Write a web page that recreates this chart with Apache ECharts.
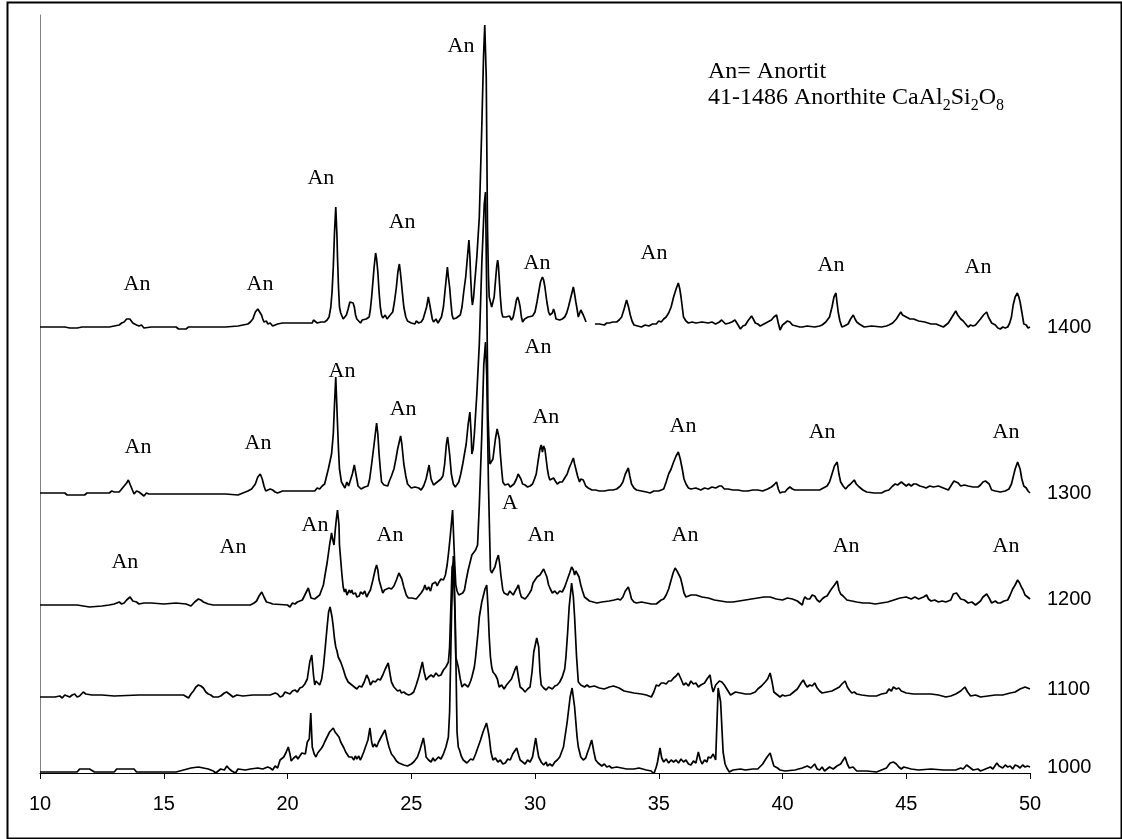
<!DOCTYPE html>
<html><head><meta charset="utf-8">
<script src="https://cdn.jsdelivr.net/npm/echarts@6/dist/echarts.min.js"></script>
<style>html,body{margin:0;padding:0;background:#fff}#c{width:1122px;height:839px}</style>
</head><body><div id="c"></div>
<script>
// ---- data ----
const xTicks = [10, 15, 20, 25, 30, 35, 40, 45, 50];
const seriesNames = ['1000', '1100', '1200', '1300', '1400'];
const offsets = [1, 76, 168, 279, 446]; // vertical stacking offsets (a.u.)

// [2theta, intensity above own baseline]
const s1000 = [[10.0,0],[10.5,0],[11.0,0],[11.5,0],[11.6,3],[12.0,3],[12.2,0],[13.0,0],[13.1,3],[13.8,3],[13.9,0],[15.5,0],[15.8,2],[16.1,4],[16.4,5],[16.8,3],[17.0,1],[17.1,-1],[17.3,3],[17.45,2],[17.55,6],[17.65,3],[17.75,1],[17.9,-1],[18.0,3],[18.3,2],[18.5,3],[18.8,4],[19.0,3],[19.2,5],[19.3,4],[19.4,2],[19.5,6],[19.6,4],[19.7,12],[19.85,15],[19.95,20],[20.03,25],[20.1,18],[20.15,11],[20.25,14],[20.35,16],[20.42,13],[20.5,16],[20.58,19],[20.65,20],[20.72,18],[20.8,30],[20.88,33],[20.94,59],[21.0,25],[21.08,18],[21.15,15],[21.22,19],[21.3,20],[21.38,24],[21.45,27],[21.5,30],[21.6,35],[21.7,40],[21.78,42],[21.85,44],[21.92,40],[22.0,38],[22.08,35],[22.15,30],[22.2,28],[22.28,24],[22.35,20],[22.4,18],[22.48,15],[22.55,17],[22.6,15],[22.68,12],[22.74,16],[22.8,13],[22.88,16],[22.94,12],[23.0,15],[23.08,20],[23.15,25],[23.25,32],[23.33,44],[23.4,30],[23.45,25],[23.52,28],[23.6,25],[23.68,30],[23.75,32],[23.85,38],[23.94,42],[24.02,33],[24.1,25],[24.2,18],[24.3,15],[24.4,11],[24.5,9],[24.6,8],[24.7,7],[24.85,6],[25.0,8],[25.1,10],[25.25,15],[25.35,22],[25.49,34],[25.55,25],[25.6,15],[25.7,12],[25.8,10],[25.88,14],[25.95,11],[26.0,12],[26.1,15],[26.2,13],[26.3,18],[26.4,25],[26.5,35],[26.55,60],[26.63,160],[26.7,216],[26.78,150],[26.85,40],[26.9,25],[26.95,22],[27.02,16],[27.1,12],[27.18,14],[27.25,9],[27.3,10],[27.4,13],[27.5,12],[27.6,18],[27.7,25],[27.8,32],[27.9,40],[28.04,49],[28.1,42],[28.15,35],[28.22,20],[28.3,12],[28.4,14],[28.5,10],[28.6,12],[28.7,8],[28.8,9],[28.9,13],[29.0,12],[29.1,18],[29.26,24],[29.35,16],[29.4,12],[29.5,10],[29.6,8],[29.7,12],[29.8,10],[29.9,15],[30.03,34],[30.1,22],[30.15,15],[30.25,10],[30.35,7],[30.45,10],[30.5,6],[30.6,8],[30.7,6],[30.8,10],[30.9,12],[31.0,15],[31.15,25],[31.3,50],[31.42,75],[31.5,84],[31.6,65],[31.7,35],[31.75,25],[31.85,15],[31.95,12],[32.05,14],[32.1,18],[32.2,25],[32.29,32],[32.38,20],[32.45,12],[32.55,9],[32.6,11],[32.7,6],[32.8,8],[32.9,5],[33.0,6],[33.1,4],[33.3,5],[33.5,4],[33.7,3],[34.0,3],[34.2,4],[34.5,2],[34.7,1],[34.8,-2],[34.9,5],[34.95,10],[35.05,24],[35.12,14],[35.2,10],[35.3,13],[35.4,9],[35.5,12],[35.6,10],[35.7,12],[35.8,9],[35.9,13],[36.0,10],[36.1,12],[36.2,8],[36.3,7],[36.4,11],[36.5,9],[36.6,20],[36.68,12],[36.75,8],[36.85,12],[36.95,10],[37.0,15],[37.1,14],[37.2,18],[37.3,12],[37.4,84],[37.5,70],[37.6,20],[37.68,8],[37.75,4],[37.85,0],[38.0,2],[38.3,3],[38.5,2],[38.8,3],[39.0,3],[39.2,8],[39.35,14],[39.5,19],[39.58,12],[39.65,6],[39.8,4],[39.9,2],[40.1,1],[40.5,2],[40.8,4],[41.0,6],[41.15,4],[41.3,8],[41.4,3],[41.5,2],[41.6,5],[41.7,1],[41.9,5],[42.05,3],[42.2,6],[42.35,8],[42.53,15],[42.62,8],[42.7,4],[42.85,5],[43.0,1],[43.4,1],[43.8,0],[44.0,2],[44.2,4],[44.35,9],[44.48,10],[44.6,8],[44.7,5],[44.8,3],[44.9,5],[45.2,3],[45.5,2],[46.0,3],[46.5,2],[47.0,2],[47.2,4],[47.3,3],[47.44,7],[47.6,4],[47.7,2],[47.9,3],[48.0,1],[48.2,3],[48.4,5],[48.5,3],[48.66,9],[48.75,6],[48.9,4],[49.0,7],[49.1,5],[49.2,6],[49.3,3],[49.4,7],[49.5,6],[49.6,4],[49.7,7],[49.8,5],[49.9,6],[50.0,5]];

const s1100 = [[10.0,0],[10.6,0],[10.8,1],[10.9,-1],[11.0,2],[11.1,1],[11.2,0],[11.3,2],[11.4,3],[11.5,0],[11.6,1],[11.75,5],[11.85,3],[11.9,1],[12.1,2],[12.5,2],[13.0,1],[14.0,2],[15.0,2],[15.8,2],[16.0,-1],[16.1,3],[16.2,6],[16.3,10],[16.4,12],[16.5,11],[16.6,9],[16.7,5],[16.8,3],[16.9,2],[17.0,0],[17.2,0],[17.3,1],[17.45,4],[17.54,5],[17.65,3],[17.8,0],[17.95,2],[18.2,1],[18.6,2],[19.0,2],[19.3,2],[19.5,4],[19.6,3],[19.7,0],[19.8,1],[19.9,5],[20.0,4],[20.1,3],[20.2,6],[20.3,7],[20.4,5],[20.5,9],[20.6,10],[20.7,13],[20.8,18],[20.9,35],[20.98,42],[21.05,22],[21.1,12],[21.15,16],[21.2,15],[21.3,12],[21.38,18],[21.45,30],[21.52,48],[21.6,70],[21.66,85],[21.72,90],[21.8,80],[21.85,70],[21.9,58],[21.95,50],[22.0,46],[22.05,40],[22.15,35],[22.25,28],[22.35,20],[22.45,15],[22.55,13],[22.6,12],[22.7,10],[22.8,8],[22.9,11],[23.0,10],[23.1,15],[23.2,22],[23.28,18],[23.35,12],[23.45,16],[23.55,15],[23.65,18],[23.75,17],[23.85,22],[23.95,28],[24.07,34],[24.15,22],[24.2,15],[24.3,10],[24.35,8],[24.45,6],[24.55,7],[24.6,4],[24.7,5],[24.8,3],[24.9,2],[25.0,3],[25.1,5],[25.2,12],[25.3,20],[25.45,35],[25.52,25],[25.6,17],[25.7,20],[25.8,22],[25.9,20],[26.0,24],[26.1,21],[26.2,22],[26.3,27],[26.4,30],[26.5,35],[26.55,50],[26.65,130],[26.72,135],[26.8,40],[26.85,35],[26.9,30],[26.98,18],[27.05,10],[27.15,13],[27.2,12],[27.3,10],[27.4,16],[27.45,20],[27.55,30],[27.6,40],[27.7,65],[27.75,80],[27.85,95],[27.9,100],[27.98,108],[28.05,112],[28.1,90],[28.15,60],[28.2,40],[28.25,30],[28.3,25],[28.4,22],[28.48,18],[28.55,10],[28.65,12],[28.75,8],[28.85,12],[28.95,15],[29.05,18],[29.1,20],[29.2,28],[29.26,31],[29.33,20],[29.4,10],[29.5,8],[29.6,5],[29.7,8],[29.8,10],[29.88,25],[29.95,45],[30.07,59],[30.15,50],[30.2,25],[30.25,12],[30.35,9],[30.45,7],[30.55,10],[30.7,8],[30.8,11],[30.9,12],[31.0,15],[31.1,20],[31.2,28],[31.25,40],[31.32,65],[31.38,90],[31.48,114],[31.55,100],[31.6,80],[31.68,40],[31.75,15],[31.85,12],[32.0,10],[32.1,12],[32.2,10],[32.4,11],[32.6,9],[32.8,8],[33.0,10],[33.17,11],[33.4,9],[33.6,6],[33.8,5],[34.0,4],[34.3,3],[34.5,2],[34.6,1],[34.7,0],[34.8,5],[34.9,12],[35.0,11],[35.1,14],[35.2,14],[35.3,13],[35.4,16],[35.5,16],[35.6,19],[35.7,21],[35.79,24],[35.9,18],[36.0,12],[36.1,14],[36.2,11],[36.3,16],[36.4,13],[36.5,14],[36.6,10],[36.7,12],[36.85,14],[36.95,18],[37.07,22],[37.15,10],[37.2,5],[37.3,12],[37.45,16],[37.55,15],[37.65,12],[37.75,8],[37.9,2],[38.1,5],[38.3,4],[38.5,3],[38.7,3],[38.9,5],[39.0,8],[39.15,11],[39.3,15],[39.4,18],[39.5,24],[39.58,15],[39.65,5],[39.75,3],[39.9,0],[40.0,2],[40.1,1],[40.3,2],[40.45,5],[40.6,8],[40.75,14],[40.84,17],[40.92,13],[41.0,10],[41.1,12],[41.2,11],[41.3,14],[41.4,9],[41.5,6],[41.6,4],[41.8,5],[42.0,6],[42.15,8],[42.3,10],[42.4,13],[42.53,16],[42.62,10],[42.7,7],[42.8,4],[42.9,5],[43.0,3],[43.2,2],[43.5,1],[43.8,1],[44.0,3],[44.2,4],[44.3,8],[44.4,6],[44.48,10],[44.6,8],[44.7,9],[44.8,6],[45.0,4],[45.3,3],[45.6,3],[46.0,3],[46.3,2],[46.6,0],[46.8,1],[47.0,3],[47.2,6],[47.37,10],[47.48,5],[47.6,1],[47.8,2],[48.0,0],[48.3,1],[48.6,2],[48.9,2],[49.2,4],[49.4,5],[49.6,8],[49.8,10],[50.0,8]];

const s1200 = [[10.0,0],[11.0,0],[11.5,0],[12.0,-2],[12.5,-1],[12.8,0],[13.0,1],[13.2,3],[13.3,1],[13.4,2],[13.5,5],[13.64,8],[13.75,4],[13.8,2],[13.9,3],[14.0,1],[14.2,2],[14.5,2],[15.0,1],[15.5,2],[15.9,1],[16.1,-1],[16.25,3],[16.4,6],[16.5,5],[16.6,3],[16.8,1],[17.0,0],[17.5,0],[18.0,0],[18.5,0],[18.65,2],[18.75,4],[18.85,9],[18.96,13],[19.05,8],[19.15,3],[19.3,2],[19.4,1],[20.0,0],[20.1,-2],[20.2,2],[20.3,1],[20.4,3],[20.5,4],[20.6,5],[20.7,10],[20.84,17],[20.95,7],[21.0,5],[21.1,6],[21.2,8],[21.3,10],[21.45,20],[21.55,35],[21.6,42],[21.7,60],[21.78,72],[21.83,65],[21.88,60],[21.93,75],[21.97,85],[22.02,95],[22.08,80],[22.1,60],[22.15,45],[22.2,30],[22.25,18],[22.3,13],[22.35,16],[22.4,10],[22.45,12],[22.5,15],[22.55,12],[22.6,15],[22.65,11],[22.75,12],[22.8,8],[22.9,9],[22.95,13],[23.05,11],[23.12,14],[23.2,8],[23.28,12],[23.35,15],[23.45,25],[23.55,36],[23.6,40],[23.65,35],[23.7,25],[23.78,18],[23.85,12],[23.92,15],[24.0,13],[24.1,17],[24.2,16],[24.3,19],[24.4,25],[24.5,32],[24.55,34],[24.62,26],[24.7,18],[24.8,10],[24.88,7],[24.95,5],[25.02,7],[25.1,8],[25.2,6],[25.3,9],[25.4,12],[25.5,16],[25.55,20],[25.62,15],[25.7,18],[25.78,14],[25.85,21],[25.9,20],[25.98,23],[26.05,19],[26.1,22],[26.2,26],[26.3,25],[26.38,30],[26.45,40],[26.52,55],[26.58,70],[26.67,95],[26.75,45],[26.8,20],[26.85,14],[26.92,10],[27.0,10],[27.08,12],[27.15,15],[27.22,25],[27.3,35],[27.4,45],[27.45,50],[27.52,48],[27.6,55],[27.68,60],[27.75,100],[27.85,170],[27.93,240],[28.0,263],[28.05,230],[28.12,120],[28.2,35],[28.25,32],[28.3,30],[28.38,38],[28.45,45],[28.52,50],[28.58,40],[28.62,30],[28.7,15],[28.75,12],[28.82,14],[28.9,10],[28.98,14],[29.05,12],[29.12,10],[29.2,14],[29.27,17],[29.33,20],[29.4,12],[29.45,8],[29.52,9],[29.6,6],[29.7,9],[29.78,12],[29.85,15],[29.92,22],[30.0,25],[30.08,28],[30.15,26],[30.2,30],[30.28,32],[30.35,36],[30.4,38],[30.48,28],[30.55,20],[30.62,16],[30.7,12],[30.8,14],[30.9,11],[31.0,14],[31.1,13],[31.2,18],[31.3,25],[31.4,32],[31.48,38],[31.55,35],[31.6,30],[31.65,34],[31.72,33],[31.78,28],[31.85,20],[31.92,14],[32.0,8],[32.1,6],[32.2,4],[32.35,3],[32.5,2],[32.7,3],[33.0,4],[33.2,5],[33.35,6],[33.45,5],[33.55,8],[33.65,14],[33.77,18],[33.84,12],[33.9,6],[34.0,3],[34.1,2],[34.3,3],[34.5,2],[34.7,1],[34.9,1],[35.0,3],[35.1,5],[35.2,6],[35.3,10],[35.4,16],[35.5,25],[35.58,32],[35.66,37],[35.74,34],[35.8,33],[35.88,27],[35.95,20],[36.02,12],[36.1,8],[36.3,10],[36.5,10],[36.75,8],[37.0,7],[37.25,5],[37.5,4],[37.75,3],[38.0,3],[38.25,4],[38.5,5],[38.75,6],[39.0,7],[39.25,8],[39.5,8],[39.75,6],[40.0,5],[40.2,7],[40.4,6],[40.5,5],[40.6,4],[40.7,2],[40.8,0],[40.85,5],[40.9,8],[41.0,6],[41.1,6],[41.2,10],[41.3,9],[41.4,5],[41.5,3],[41.6,6],[41.7,8],[41.8,9],[41.95,15],[42.1,20],[42.21,24],[42.28,15],[42.35,11],[42.45,9],[42.6,5],[42.8,4],[43.0,3],[43.25,2],[43.5,2],[43.75,1],[44.0,2],[44.25,3],[44.5,5],[44.75,7],[45.0,8],[45.2,6],[45.35,8],[45.5,6],[45.7,8],[45.82,10],[45.9,6],[46.0,4],[46.15,5],[46.3,3],[46.45,4],[46.6,3],[46.8,5],[46.9,11],[47.03,12],[47.1,10],[47.2,6],[47.35,5],[47.5,2],[47.65,3],[47.8,0],[47.9,2],[48.0,4],[48.1,8],[48.25,11],[48.35,7],[48.45,2],[48.6,4],[48.7,2],[48.8,2],[48.95,4],[49.1,5],[49.2,10],[49.3,16],[49.4,20],[49.5,25],[49.58,22],[49.65,18],[49.72,15],[49.8,10],[49.9,8],[50.0,6]];

const s1300 = [[10.0,1],[10.5,1],[11.0,1],[11.1,-1],[11.8,-1],[11.9,1],[12.8,1],[12.9,3],[13.0,2],[13.2,2],[13.3,5],[13.4,8],[13.5,11],[13.57,14],[13.65,9],[13.7,6],[13.75,3],[13.8,0],[13.9,3],[14.0,2],[14.1,0],[14.2,-2],[14.3,1],[14.4,0],[15.0,0],[16.0,0],[17.0,0],[17.5,0],[18.0,-1],[18.2,1],[18.4,3],[18.55,5],[18.7,10],[18.8,17],[18.9,20],[18.98,15],[19.05,8],[19.12,3],[19.2,2],[19.3,5],[19.4,4],[19.5,2],[19.6,1],[19.8,3],[20.3,3],[20.8,3],[21.1,3],[21.2,6],[21.3,5],[21.4,8],[21.5,10],[21.58,18],[21.65,25],[21.72,33],[21.78,40],[21.85,60],[21.9,90],[21.95,117],[22.02,70],[22.06,45],[22.1,25],[22.18,12],[22.25,9],[22.32,6],[22.4,12],[22.47,8],[22.55,10],[22.62,20],[22.7,29],[22.75,22],[22.8,15],[22.85,8],[22.9,9],[22.97,5],[23.05,4],[23.12,7],[23.18,5],[23.25,8],[23.32,15],[23.4,30],[23.5,50],[23.6,71],[23.65,60],[23.7,40],[23.75,25],[23.8,12],[23.85,14],[23.9,9],[23.97,11],[24.05,8],[24.1,12],[24.2,18],[24.3,25],[24.38,35],[24.45,45],[24.57,58],[24.62,50],[24.7,30],[24.78,18],[24.85,10],[24.92,8],[25.0,6],[25.08,4],[25.15,7],[25.22,5],[25.3,6],[25.4,4],[25.5,8],[25.6,15],[25.72,29],[25.76,22],[25.8,15],[25.85,12],[25.9,9],[25.97,11],[26.05,12],[26.1,10],[26.2,15],[26.28,18],[26.35,30],[26.42,50],[26.47,57],[26.55,40],[26.62,20],[26.7,10],[26.78,7],[26.85,8],[26.92,12],[27.0,20],[27.08,30],[27.15,40],[27.22,50],[27.3,70],[27.37,82],[27.42,60],[27.45,40],[27.5,45],[27.55,60],[27.65,100],[27.75,150],[27.85,230],[27.95,290],[28.0,302],[28.05,200],[28.1,80],[28.15,45],[28.18,30],[28.25,28],[28.3,35],[28.4,55],[28.47,65],[28.52,67],[28.56,55],[28.6,40],[28.65,25],[28.7,12],[28.78,9],[28.85,7],[28.92,10],[29.0,7],[29.08,8],[29.15,10],[29.25,15],[29.32,20],[29.37,22],[29.43,15],[29.5,10],[29.6,9],[29.7,7],[29.8,8],[29.9,10],[29.98,15],[30.05,20],[30.12,32],[30.2,45],[30.25,49],[30.3,42],[30.35,48],[30.4,45],[30.45,35],[30.5,25],[30.55,18],[30.6,14],[30.68,12],[30.75,16],[30.82,13],[30.9,10],[31.0,12],[31.1,12],[31.2,16],[31.3,20],[31.38,26],[31.45,30],[31.55,36],[31.6,30],[31.65,25],[31.72,18],[31.8,12],[31.85,15],[31.9,17],[31.95,14],[32.05,8],[32.15,6],[32.3,4],[32.45,4],[32.6,3],[32.8,3],[33.0,4],[33.15,4],[33.3,5],[33.45,8],[33.55,12],[33.65,20],[33.77,26],[33.83,18],[33.9,10],[34.0,6],[34.1,4],[34.3,3],[34.5,2],[34.65,1],[34.8,3],[35.0,3],[35.2,5],[35.3,12],[35.4,20],[35.5,25],[35.6,32],[35.7,38],[35.79,42],[35.87,35],[35.95,25],[36.02,15],[36.1,10],[36.2,6],[36.3,5],[36.5,6],[36.7,4],[36.85,6],[37.0,5],[37.15,7],[37.3,6],[37.45,8],[37.54,8],[37.65,5],[37.8,5],[38.0,4],[38.2,4],[38.4,3],[38.6,3],[38.8,4],[39.0,4],[39.2,3],[39.4,5],[39.55,7],[39.65,9],[39.76,12],[39.83,5],[39.9,1],[40.0,2],[40.1,2],[40.2,5],[40.3,7],[40.4,5],[40.5,4],[40.6,4],[40.8,4],[41.0,4],[41.25,4],[41.5,4],[41.65,6],[41.8,8],[41.9,12],[42.0,20],[42.1,28],[42.21,32],[42.28,20],[42.35,12],[42.45,8],[42.55,5],[42.65,8],[42.75,10],[42.9,14],[42.98,10],[43.1,7],[43.25,4],[43.4,2],[43.7,1],[44.0,1],[44.15,3],[44.3,4],[44.45,8],[44.55,10],[44.65,9],[44.8,12],[44.9,10],[45.0,8],[45.1,10],[45.2,8],[45.3,10],[45.4,10],[45.55,8],[45.7,7],[45.8,6],[45.95,8],[46.1,7],[46.3,8],[46.5,6],[46.7,4],[46.85,10],[46.93,13],[47.0,15],[47.1,11],[47.2,8],[47.35,9],[47.5,8],[47.7,7],[47.9,7],[48.0,9],[48.1,12],[48.2,13],[48.27,15],[48.35,10],[48.45,4],[48.6,3],[48.8,2],[49.0,3],[49.15,5],[49.25,10],[49.3,15],[49.4,25],[49.5,32],[49.55,30],[49.6,25],[49.67,15],[49.75,8],[49.85,6],[49.92,3],[50.0,1]];

const s1400 = [[10.0,0],[10.5,0],[11.0,0],[11.2,-1],[11.5,-1],[11.7,0],[12.5,0],[12.8,0],[13.0,1],[13.2,2],[13.3,4],[13.4,5],[13.5,8],[13.56,10],[13.63,8],[13.7,6],[13.75,4],[13.8,3],[13.9,2],[14.0,1],[14.1,2],[14.2,-1],[14.5,0],[15.0,0],[15.5,0],[15.6,-2],[15.9,-2],[16.0,0],[17.0,0],[17.5,0],[18.0,1],[18.2,2],[18.4,3],[18.5,5],[18.6,8],[18.7,15],[18.8,18],[18.88,17],[18.95,12],[19.0,8],[19.05,5],[19.15,6],[19.2,3],[19.3,4],[19.4,1],[19.5,2],[19.6,3],[19.8,4],[20.5,4],[21.0,4],[21.05,7],[21.1,6],[21.2,4],[21.35,5],[21.5,5],[21.6,7],[21.68,10],[21.75,20],[21.8,35],[21.85,60],[21.9,95],[21.95,120],[22.0,90],[22.02,70],[22.06,40],[22.1,20],[22.15,14],[22.2,12],[22.25,8],[22.3,10],[22.38,12],[22.45,18],[22.52,25],[22.6,27],[22.65,24],[22.7,20],[22.75,12],[22.8,8],[22.88,6],[22.95,4],[23.02,7],[23.1,6],[23.18,8],[23.25,7],[23.3,10],[23.35,18],[23.4,30],[23.45,45],[23.5,60],[23.56,74],[23.6,68],[23.65,55],[23.7,35],[23.75,20],[23.8,12],[23.85,9],[23.9,11],[23.95,12],[24.02,8],[24.1,8],[24.15,12],[24.25,15],[24.32,25],[24.4,40],[24.46,55],[24.52,63],[24.56,55],[24.6,45],[24.65,32],[24.7,20],[24.78,10],[24.85,6],[24.92,4],[25.0,4],[25.08,6],[25.15,3],[25.2,6],[25.3,4],[25.4,5],[25.48,8],[25.55,10],[25.62,20],[25.69,30],[25.75,22],[25.8,15],[25.85,8],[25.9,5],[25.95,7],[26.0,8],[26.08,4],[26.15,6],[26.22,10],[26.3,20],[26.36,35],[26.4,45],[26.46,60],[26.5,50],[26.55,40],[26.6,25],[26.65,12],[26.7,8],[26.75,6],[26.82,9],[26.9,8],[26.98,12],[27.05,20],[27.12,35],[27.2,50],[27.27,70],[27.33,87],[27.37,70],[27.4,50],[27.44,30],[27.47,22],[27.52,30],[27.55,40],[27.65,70],[27.75,110],[27.85,200],[27.92,270],[27.97,302],[28.03,250],[28.08,100],[28.12,50],[28.15,30],[28.2,25],[28.25,20],[28.3,22],[28.35,30],[28.4,45],[28.45,60],[28.49,67],[28.52,62],[28.55,50],[28.6,30],[28.65,15],[28.7,10],[28.75,8],[28.82,10],[28.9,9],[28.97,11],[29.05,7],[29.12,10],[29.2,20],[29.25,27],[29.3,30],[29.35,26],[29.4,20],[29.45,10],[29.5,5],[29.58,8],[29.65,7],[29.72,10],[29.8,8],[29.9,11],[30.0,15],[30.08,25],[30.15,35],[30.22,45],[30.3,50],[30.35,47],[30.4,40],[30.48,25],[30.55,15],[30.6,12],[30.65,10],[30.7,14],[30.75,18],[30.8,14],[30.85,8],[30.92,9],[31.0,7],[31.1,8],[31.2,10],[31.28,14],[31.35,20],[31.45,30],[31.55,40],[31.6,33],[31.65,25],[31.7,18],[31.75,10],[31.8,12],[31.85,17],[31.9,15],[31.95,12],[32.0,9],[32.06,5],[32.2,'-'],[32.42,3],[32.6,3],[32.8,2],[32.9,4],[33.0,4],[33.15,5],[33.3,5],[33.4,7],[33.5,10],[33.6,18],[33.7,27],[33.78,20],[33.85,12],[33.92,6],[34.0,2],[34.15,1],[34.3,0],[34.45,2],[34.6,1],[34.75,3],[34.9,3],[35.0,6],[35.1,5],[35.2,8],[35.3,10],[35.4,14],[35.5,20],[35.6,30],[35.7,38],[35.79,44],[35.85,38],[35.9,30],[35.95,20],[36.0,10],[36.1,6],[36.2,4],[36.35,5],[36.5,4],[36.75,5],[37.0,4],[37.15,5],[37.3,3],[37.45,5],[37.54,7],[37.62,5],[37.7,3],[37.85,4],[37.95,5],[38.08,7],[38.18,3],[38.3,-2],[38.4,1],[38.5,2],[38.6,6],[38.75,11],[38.82,8],[38.9,4],[39.0,3],[39.1,1],[39.25,3],[39.4,5],[39.55,7],[39.65,10],[39.76,12],[39.82,5],[39.9,-3],[40.0,2],[40.1,4],[40.2,6],[40.3,5],[40.4,2],[40.55,1],[40.7,0],[40.8,0],[41.0,1],[41.3,0],[41.5,1],[41.6,2],[41.75,5],[41.9,10],[42.0,20],[42.08,30],[42.16,34],[42.2,25],[42.25,15],[42.32,6],[42.4,0],[42.5,1],[42.55,-1],[42.65,3],[42.75,8],[42.86,12],[42.93,8],[43.0,5],[43.1,3],[43.3,0],[43.6,1],[44.0,0],[44.2,1],[44.3,2],[44.45,4],[44.6,8],[44.7,12],[44.78,15],[44.85,12],[45.0,10],[45.15,8],[45.3,8],[45.5,6],[45.75,5],[46.0,3],[46.2,3],[46.4,1],[46.5,0],[46.6,2],[46.7,4],[46.8,8],[46.9,12],[47.0,16],[47.08,12],[47.2,8],[47.3,6],[47.4,3],[47.5,0],[47.6,2],[47.7,1],[47.8,2],[47.9,5],[48.0,8],[48.12,12],[48.25,15],[48.32,10],[48.45,4],[48.6,2],[48.7,-1],[48.8,-2],[48.9,0],[49.0,-1],[49.1,0],[49.18,4],[49.25,10],[49.32,22],[49.4,30],[49.49,34],[49.55,30],[49.6,25],[49.67,15],[49.75,3],[49.85,2],[49.92,-1],[50.0,0]];

// peak annotations [2theta, stacked intensity, text]
const annotations = [
  [13.92,489,'An'],[18.89,489,'An'],[21.35,595,'An'],[24.63,551,'An'],[27.01,727,'An'],[30.08,510,'An'],[34.81,520,'An'],[41.96,508,'An'],[47.90,506,'An'],
  [13.96,326,'An'],[18.81,330,'An'],[22.20,402,'An'],[24.67,364,'An'],[30.12,426,'An'],[30.44,356,'An'],[35.98,347,'An'],[41.60,341,'An'],[49.03,341,'An'],
  [13.43,211,'An'],[17.80,226,'An'],[21.11,248,'An'],[24.14,238,'An'],[28.99,270,'A'],[30.24,238,'An'],[36.06,238,'An'],[42.57,227,'An'],[49.03,227,'An']
];
const legendLine1 = 'An= Anortit';
const legendLine2 = ['41-1486 Anorthite CaAl', '2', 'Si', '2', 'O', '8'];

// ---- chart ----
const rawSeries = [s1000, s1100, s1200, s1300, s1400];
const chart = echarts.init(document.getElementById('c'), null, {renderer: 'canvas'});
const lineSeries = rawSeries.map((arr, i) => ({
  name: seriesNames[i],
  type: 'line',
  data: arr.map(p => [p[0], p[1] === '-' ? '-' : p[1] + offsets[i]]),
  showSymbol: false,
  symbol: 'none',
  connectNulls: false,
  lineStyle: {color: '#000', width: 1.7},
  silent: true,
  z: 3,
  endLabel: {show: true, formatter: '{a}', distance: 17, color: '#000',
             fontFamily: '"Liberation Sans", Arial, sans-serif', fontSize: 20}
}));
const serif = '"Liberation Serif", "Times New Roman", serif';
const sub = legendLine2.map((t, k) => (k % 2 ? '{s|' : '{a|') + t + '}').join('');
chart.setOption({
  animation: false,
  backgroundColor: '#fff',
  grid: {left: 40, right: 92, top: 15, bottom: 66, containLabel: false},
  xAxis: {
    type: 'value', min: xTicks[0], max: xTicks[xTicks.length - 1], interval: 5,
    axisLine: {show: true, onZero: false, lineStyle: {color: '#000', width: 1}},
    axisTick: {show: true, inside: false, length: 6, lineStyle: {color: '#000'}},
    axisLabel: {color: '#000', fontSize: 20, margin: 21,
                fontFamily: '"Liberation Sans", Arial, sans-serif'},
    splitLine: {show: false}
  },
  yAxis: {
    type: 'value', min: 0, max: 758,
    axisLine: {show: true, lineStyle: {color: '#808080', width: 1}},
    axisTick: {show: false}, axisLabel: {show: false}, splitLine: {show: false}
  },
  series: lineSeries.concat([{
    type: 'scatter', data: annotations, symbolSize: 0, silent: true, z: 5,
    itemStyle: {color: '#000', opacity: 1},
    label: {show: true, position: 'inside', formatter: p => p.data[2],
            color: '#000', opacity: 1, textBorderWidth: 0, textShadowBlur: 0,
            fontFamily: serif, fontSize: 22}
  }]),
  graphic: [
    {type: 'rect', left: 5, top: 0, shape: {width: 1114, height: 836},
     style: {fill: null, stroke: '#000', lineWidth: 2}, silent: true, z: 10},
    {type: 'text', left: 708, top: 60, silent: true,
     style: {text: legendLine1, font: '24px ' + serif, fill: '#000'}},
    {type: 'text', left: 708, top: 86, silent: true,
     style: {text: sub, fill: '#000',
       rich: {a: {fontFamily: serif, fontSize: 24, lineHeight: 26, verticalAlign: 'top', fill: '#000'},
              s: {fontFamily: serif, fontSize: 16, lineHeight: 16, verticalAlign: 'top', padding: [12, 0, 0, 0], fill: '#000'}}}}
  ]
});
</script></body></html>
